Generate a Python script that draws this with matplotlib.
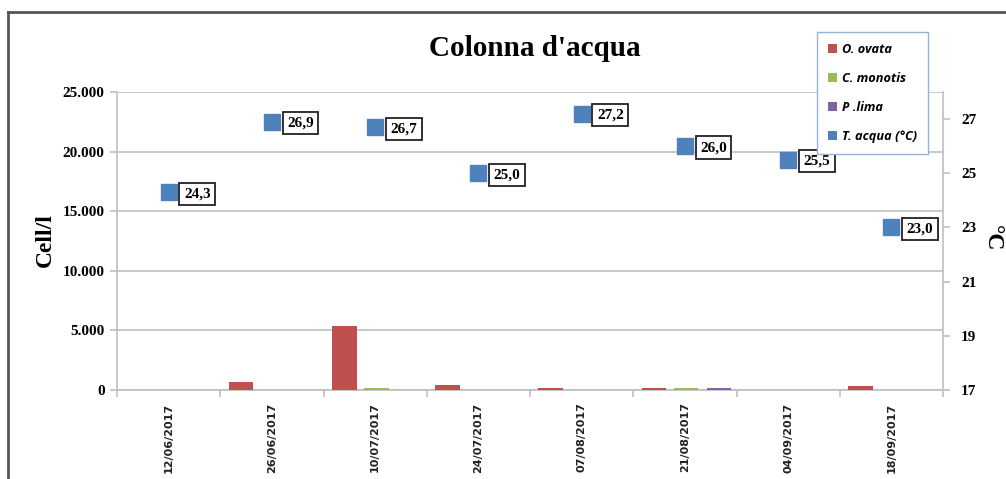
import matplotlib
matplotlib.use("Agg")
import matplotlib.pyplot as plt
import numpy as np
from matplotlib.patches import Patch
from matplotlib.lines import Line2D

dates = ["12/06/2017", "26/06/2017", "10/07/2017", "24/07/2017",
         "07/08/2017", "21/08/2017", "04/09/2017", "18/09/2017"]
o_ovata = [0, 700, 5400, 420, 150, 150, 0, 320]
c_monotis = [0, 0, 150, 0, 0, 150, 0, 0]
p_lima = [0, 0, 0, 0, 0, 130, 0, 0]
t_acqua = [24.3, 26.9, 26.7, 25.0, 27.2, 26.0, 25.5, 23.0]
series_names = ["O. ovata", "C. monotis", "P .lima", "T. acqua (°C)"]
left_ticks = [0, 5000, 10000, 15000, 20000, 25000]
left_labels = ["0", "5.000", "10.000", "15.000", "20.000", "25.000"]
right_ticks = [17, 19, 21, 23, 25, 27]

RED = "#C0504D"
GREEN = "#9BBB59"
PURPLE = "#8064A2"
BLUE = "#4F81BD"
GRID = "#BFBFBF"

serif = "Liberation Serif"

fig = plt.figure(figsize=(10.06, 4.79), dpi=100)
fig.patch.set_facecolor("white")
ax = fig.add_axes([117/1006, 1-390/479, (943-117)/1006, (390-92)/479])
ax2 = ax.twinx()

x = np.arange(len(dates))
w = 0.24
offs = [-0.30, 0.01, 0.33]
ax.bar(x + offs[0], o_ovata, w, color=RED, zorder=3)
ax.bar(x + offs[1], c_monotis, w, color=GREEN, zorder=3)
ax.bar(x + offs[2], p_lima, w, color=PURPLE, zorder=3)

ax.set_xlim(-0.5, len(dates) - 0.5)
ax.set_ylim(0, 25000)
ax.set_yticks(left_ticks)
ax.set_yticklabels(left_labels, fontfamily=serif, fontweight="bold", fontsize=11)
ax.grid(axis="y", color=GRID, linewidth=1.2, zorder=0)
ax.set_axisbelow(True)

ax.set_xticks(x)
ax.set_xticklabels(dates, rotation=90, fontfamily="DejaVu Sans", fontweight="bold",
                   fontsize=8, color="#222222")
ax.tick_params(axis="x", which="major", length=0, pad=9)
ax.set_xticks(np.arange(-0.5, len(dates) + 0.5, 1), minor=True)
ax.tick_params(axis="x", which="minor", length=5, color=GRID, width=1.2)
ax.tick_params(axis="y", length=5, color=GRID, width=1.2, pad=4)

for s in ["top"]:
    ax.spines[s].set_visible(False)
    ax2.spines[s].set_visible(False)
for sp in [ax.spines["left"], ax.spines["bottom"], ax2.spines["right"]]:
    sp.set_color(GRID)
    sp.set_linewidth(1.2)
ax2.spines["left"].set_visible(False)
ax2.spines["bottom"].set_visible(False)
ax.spines["right"].set_visible(False)

ax2.set_ylim(17, 28)
ax2.set_yticks(right_ticks)
ax2.set_yticklabels([str(t) for t in right_ticks], fontfamily=serif,
                    fontweight="bold", fontsize=11)
ax2.tick_params(axis="y", length=5, color=GRID, width=1.2, pad=8)
ax2.plot(x, t_acqua, linestyle="none", marker="s", markersize=12,
         color=BLUE, zorder=5)
for xi, t in zip(x, t_acqua):
    ax2.annotate(f"{t:.1f}".replace(".", ","), (xi, t), xytext=(11, -1),
                 textcoords="offset points", ha="left", va="center",
                 fontfamily=serif, fontweight="bold", fontsize=11,
                 bbox=dict(boxstyle="square,pad=0.3", fc="white",
                           ec="#222222", lw=1.3), zorder=6)

fig.text(535/1006, 1-48/479, "Colonna d'acqua", ha="center", va="center",
         fontfamily=serif, fontweight="bold", fontsize=21)
fig.text(45/1006, 1-240/479, "Cell/l", rotation=90, ha="center", va="center",
         fontfamily=serif, fontweight="bold", fontsize=17)
fig.text(992/1006, 1-238/479, "°C", rotation=270, ha="center", va="center",
         fontfamily=serif, fontweight="bold", fontsize=17)

handles = [Patch(facecolor=RED), Patch(facecolor=GREEN),
           Patch(facecolor=PURPLE), Patch(facecolor=BLUE)]
leg = ax2.legend(handles, series_names, loc="upper left",
                 bbox_to_anchor=(817/1006, 1-32/479), bbox_transform=fig.transFigure,
                 prop=dict(family="Open Sans", weight="bold", style="italic", size=9.2),
                 handlelength=0.75, handleheight=0.75, handletextpad=0.35,
                 labelspacing=1.25, borderpad=0.85, borderaxespad=0,
                 fancybox=False, framealpha=1, edgecolor="#95B3D7")
leg.get_frame().set_linewidth(1.0)
leg.set_zorder(10)

# outer frame (partially visible)
fig.add_artist(Line2D([8/1006, 8/1006], [0, 1-12/479], transform=fig.transFigure,
                      color="#555555", lw=2))
fig.add_artist(Line2D([8/1006, 1], [1-12/479, 1-12/479], transform=fig.transFigure,
                      color="#555555", lw=2))

fig.savefig("out.png", dpi=100)
